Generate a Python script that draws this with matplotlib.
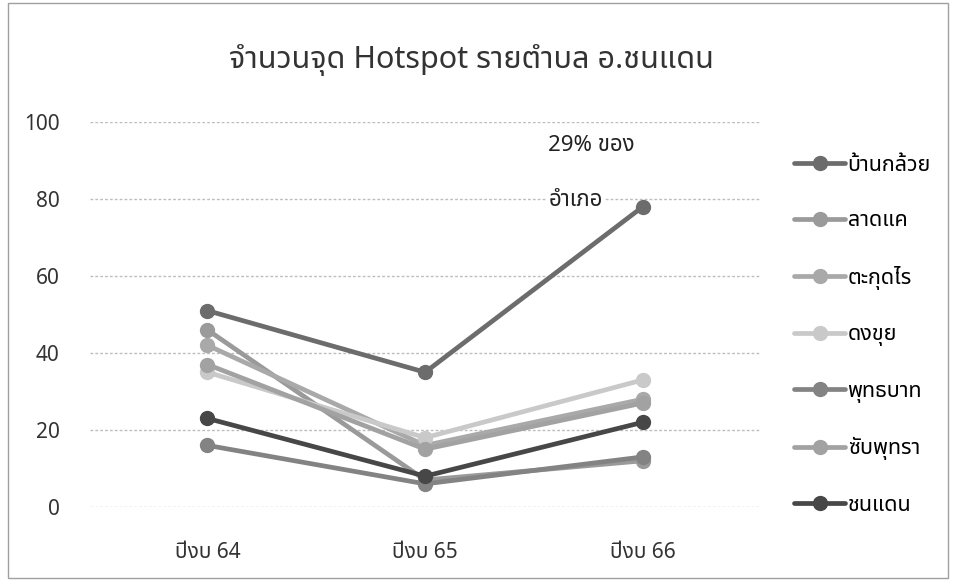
import matplotlib
matplotlib.use("Agg")
import matplotlib.pyplot as plt
from matplotlib.patches import Rectangle

plt.rcParams['font.family'] = ['Noto Sans', 'Noto Sans Thai', 'Anuphan', 'DejaVu Sans']

# data
years = ["ปีงบ 64", "ปีงบ 65", "ปีงบ 66"]
names = ["บ้านกล้วย", "ลาดแค", "ตะกุดไร", "ดงขุย", "พุทธบาท", "ซับพุทรา", "ชนแดน"]
ban_kluai = [51, 35, 78]
lat_khae = [46, 7, 12]
takut_rai = [42, 16, 28]
dong_khui = [35, 18, 33]
phutthabat = [16, 6, 13]
sap_phutsa = [37, 15, 27]
chon_daen = [23, 8, 22]
series = [ban_kluai, lat_khae, takut_rai, dong_khui, phutthabat, sap_phutsa, chon_daen]
colors = ["#6c6c6c", "#9a9a9a", "#a9a9a9", "#c9c9c9", "#838383", "#a2a2a2", "#474747"]

fig = plt.figure(figsize=(9.54, 5.81), dpi=100)
ax = fig.add_axes([0.0943, 0.1274, 0.7027, 0.6626])

x = list(range(len(years)))
for name, vals, c in zip(names, series, colors):
    ax.plot(x, vals, color=c, lw=3.4, marker="o", ms=10, label=name,
            solid_capstyle="round")

ax.set_xlim(-0.54, 2.54)
ax.set_ylim(0, 100)
ax.set_yticks(range(0, 101, 20))
ax.set_xticks(x)
ax.set_xticklabels(years)
ax.tick_params(axis="both", length=0, labelsize=15, colors="#333333")
ax.tick_params(axis="y", pad=22)
ax.tick_params(axis="x", pad=25)
for s in ax.spines.values():
    s.set_visible(False)
ax.set_axisbelow(True)
ax.yaxis.grid(True, color="#bdbdbd", lw=1, ls=(0, (2, 1.5)))

ax.text(1.566, 94, "29% ของ", fontsize=16, ha="left", va="center", color="#222222", zorder=1.5)
ax.text(1.566, 79.5, "อำเภอ", fontsize=16, ha="left", va="center", color="#222222", zorder=1.5,
        bbox=dict(facecolor="white", edgecolor="none", pad=1))

fig.text(0.494, 0.897, "จำนวนจุด Hotspot รายตำบล อ.ชนแดน", fontsize=22, ha="center", va="center",
         color="#333333")

fig.legend(loc="upper left", bbox_to_anchor=(0.823, 0.748), frameon=False, fontsize=15.5,
           handlelength=2.4, handletextpad=0.1, labelspacing=1.6, borderaxespad=0)

fig.patches.append(Rectangle((0.008, 0.005), 0.986, 0.99, transform=fig.transFigure,
                             fill=False, edgecolor="#a0a0a0", lw=1))

fig.savefig("out.png", dpi=100)
